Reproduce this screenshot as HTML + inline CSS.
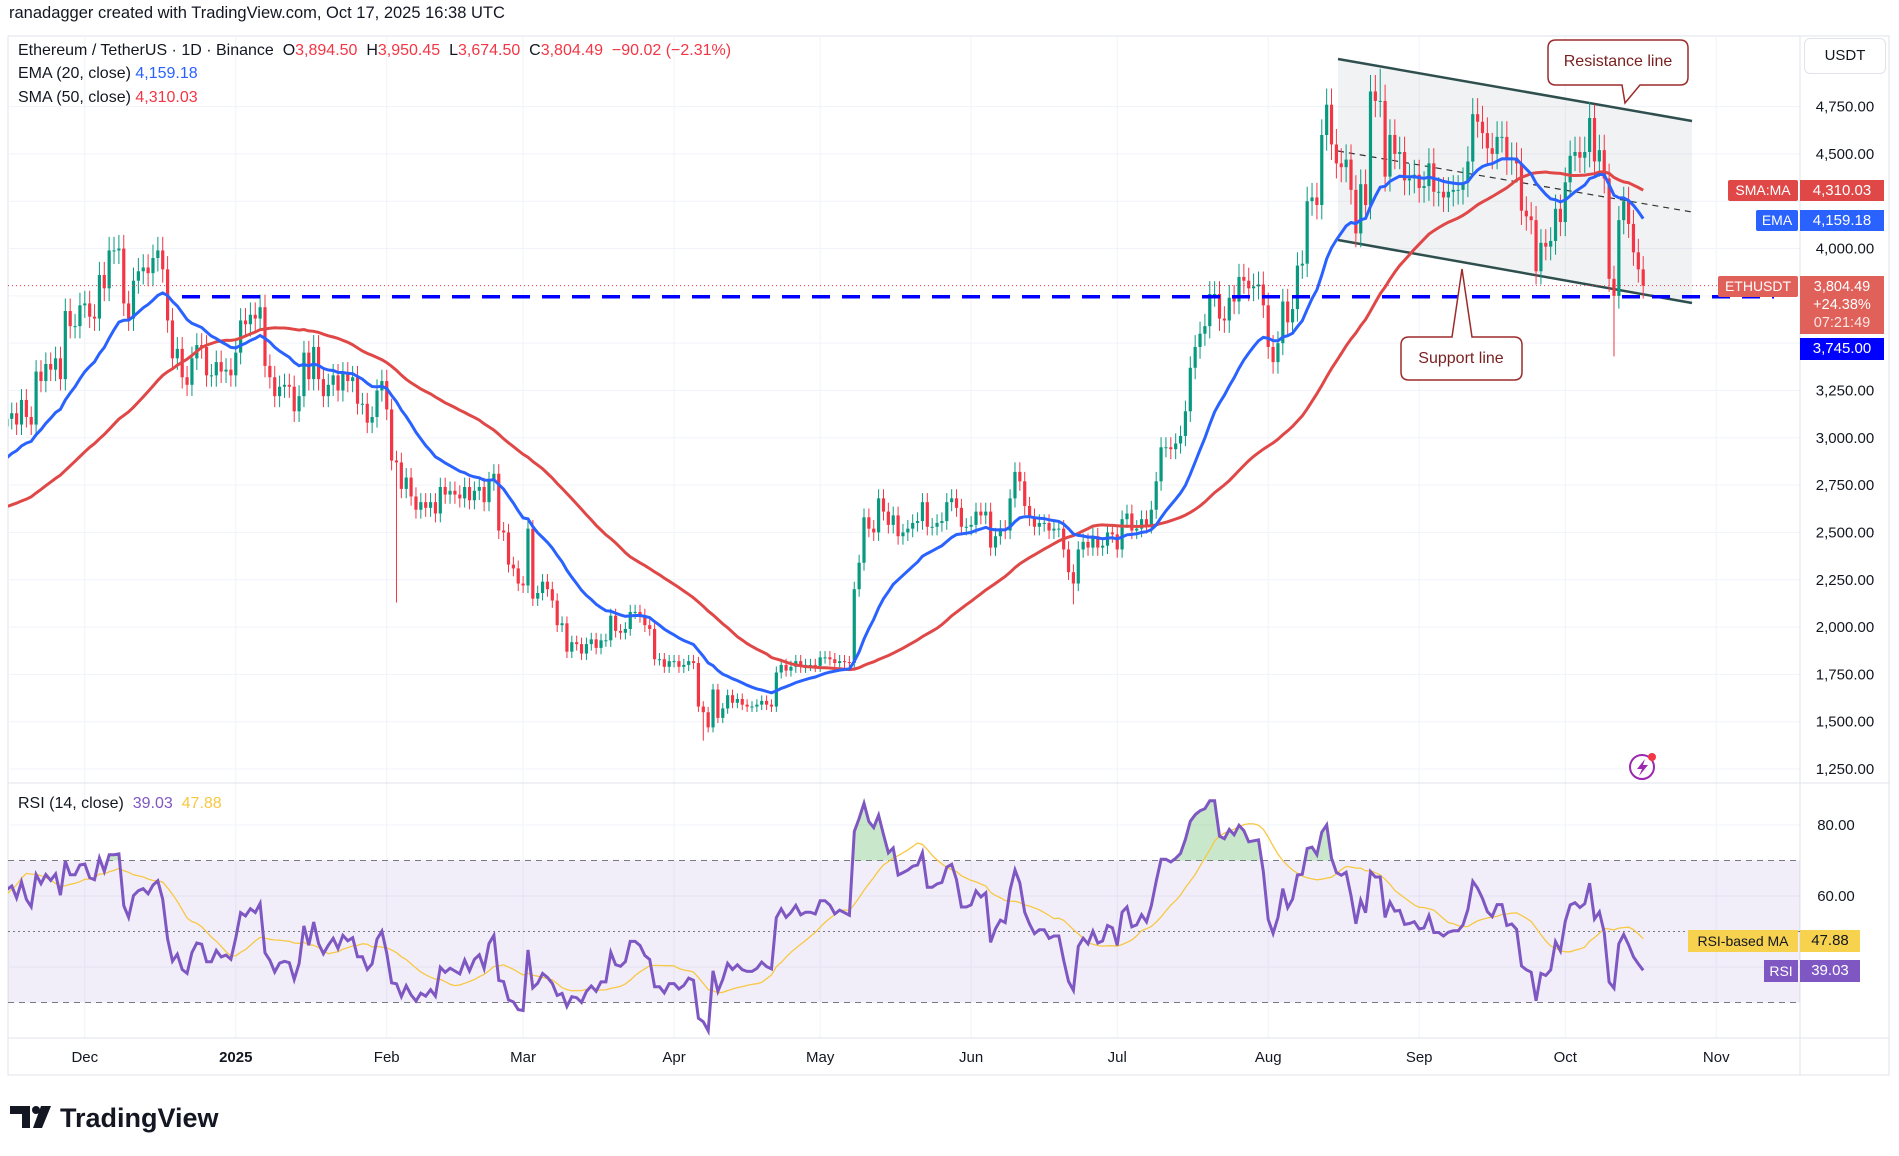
<!DOCTYPE html>
<html><head><meta charset="utf-8">
<style>
body{margin:0;background:#fff;width:1899px;height:1151px;overflow:hidden;font-family:"Liberation Sans",sans-serif;}
svg text{font-family:"Liberation Sans",sans-serif;}
</style></head>
<body>
<svg id="c" width="1899" height="1151" xmlns="http://www.w3.org/2000/svg"></svg>
<script>
// Daily closes starting 2024-09-26
const startDate = [2024, 8, 26];
const closes = [
2640,2650,2610,2660,2600,
2450,2360,2350,2410,2415,2440,2420,2440,2370,2390,2440,2470,2470,2630,2610,2610,2640,2650,2640,2750,2670,2620,2520,2540,2460,2480,2510,2570,2640,2660,2520,
2510,2490,2460,2400,2430,2720,2900,2960,3130,3180,3370,3250,3190,3060,3100,3130,3070,3200,3110,3070,3350,3300,3390,3360,3420,3310,3670,3590,3590,3700,
3710,3640,3630,3860,3790,3990,3990,4000,3710,3630,3830,3880,3900,3870,3950,3990,3890,3620,3420,3470,3320,3280,3420,3490,3480,3330,3330,3400,3350,3360,3330,
3450,3620,3600,3650,3630,3690,3380,3320,3220,3270,3280,3270,3140,3220,3450,3310,3480,3310,3220,3280,3330,3250,3340,3300,3320,3180,3180,3080,3110,3250,3300,
3150,2880,2870,2730,2790,2690,2620,2660,2630,2660,2600,2740,2700,2720,2700,2680,2740,2670,2720,2740,2660,2770,2810,2510,2500,2330,2310,2230,
2220,2520,2150,2180,2240,2200,2140,2010,2020,1870,1920,1910,1860,1910,1935,1890,1930,1930,2060,1980,1970,1990,2080,2080,2060,2010,1990,1830,1830,1790,1820,
1820,1790,1800,1820,1810,1580,1550,1470,1670,1520,1570,1640,1600,1620,1590,1580,1580,1590,1610,1590,1580,1760,1800,1770,1790,1820,1790,1800,1800,1795,
1840,1840,1830,1810,1820,1815,1810,2200,2340,2580,2520,2500,2680,2610,2540,2590,2480,2500,2520,2550,2560,2660,2530,2530,2550,2560,2660,2680,2630,2530,2530,
2540,2610,2590,2610,2420,2480,2520,2510,2680,2820,2770,2640,2580,2530,2550,2550,2510,2520,2520,2410,2290,2230,2410,2450,2420,2480,2420,2430,2500,2490,
2410,2570,2600,2510,2520,2570,2540,2620,2770,2950,2950,2940,2970,3010,3140,3370,3480,3550,3590,3760,3760,3630,3620,3740,3720,3850,3830,3790,3800,3810,3700,
3480,3400,3500,3720,3610,3680,3910,3920,4250,4270,4230,4600,4760,4550,4450,4430,4470,4310,4080,4340,4230,4830,4780,4780,4380,4600,4500,4510,4360,4370,4390,
4320,4330,4450,4300,4300,4270,4300,4310,4310,4350,4460,4710,4670,4610,4530,4500,4590,4590,4470,4480,4450,4200,4170,4150,3880,4030,4010,4040,4210,4140,
4350,4490,4510,4480,4510,4690,4460,4520,4370,3840,3750,4150,4250,4130,3980,3890,3804];
// notable wicks keyed by day index from start
const wickHighs = {332:4950, 376:4760};
const wickLows = {67:3580, 130:2130, 193:1400, 269:2120, 380:3430};
const priceTicks = [4750,4500,4000,3250,3000,2750,2500,2250,2000,1750,1500,1250];
const priceTickLabels = ["4,750.00","4,500.00","4,000.00","3,250.00","3,000.00","2,750.00","2,500.00","2,250.00","2,000.00","1,750.00","1,500.00","1,250.00"];
const rsiTicks = [80,60];
const rsiTickLabels = ["80.00","60.00"];
const monthLabels = ["Dec","2025","Feb","Mar","Apr","May","Jun","Jul","Aug","Sep","Oct","Nov"];
const monthDates = [[2024,11,1],[2025,0,1],[2025,1,1],[2025,2,1],[2025,3,1],[2025,4,1],[2025,5,1],[2025,6,1],[2025,7,1],[2025,8,1],[2025,9,1],[2025,10,1]];
const firstVisible = 50;

const NS="http://www.w3.org/2000/svg";
const svg=document.getElementById('c');
function mk(tag,attrs,parent){const e=document.createElementNS(NS,tag);for(const k in attrs)e.setAttribute(k,attrs[k]);(parent||svg).appendChild(e);return e;}
const PL=8,PR=1800,PT=36,PB=783,RT=783,RB=1038;
const day0=Date.UTC(startDate[0],startDate[1],startDate[2]);
const dec1=Date.UTC(2024,11,1);
const dec1Idx=(dec1-day0)/864e5;
function xDay(i){return 84.8+(i-dec1Idx)*4.87;}
function yP(p){return 106.6+(4750-p)*0.18926;}
function yR(r){return 825+(80-r)*3.55;}

mk('rect',{x:PL,y:PT,width:1881,height:1039,fill:'#fff',stroke:'#e0e3eb','stroke-width':1});
const defs=mk('defs',{});
const cp=mk('clipPath',{id:'pc'},defs);mk('rect',{x:PL,y:PT,width:PR-PL,height:PB-PT},cp);
const cr=mk('clipPath',{id:'rc'},defs);mk('rect',{x:PL,y:RT,width:PR-PL,height:RB-RT},cr);

const grid=mk('g',{});
priceTicks.forEach(p=>mk('line',{x1:PL,x2:PR,y1:yP(p),y2:yP(p),stroke:'#f0f3fa'},grid));
mk('line',{x1:PL,x2:PR,y1:yP(4250),y2:yP(4250),stroke:'#f0f3fa'},grid);
mk('line',{x1:PL,x2:PR,y1:yP(3500),y2:yP(3500),stroke:'#f0f3fa'},grid);
mk('line',{x1:PL,x2:PR,y1:yP(3750),y2:yP(3750),stroke:'#f0f3fa'},grid);
rsiTicks.forEach(r=>mk('line',{x1:PL,x2:PR,y1:yR(r),y2:yR(r),stroke:'#f0f3fa'},grid));
mk('line',{x1:PL,x2:PR,y1:yR(40),y2:yR(40),stroke:'#f0f3fa'},grid);
mk('line',{x1:PL,x2:PR,y1:yR(20),y2:yR(20),stroke:'#f0f3fa'},grid);
monthDates.forEach((d,k)=>{const i=(Date.UTC(d[0],d[1],d[2])-day0)/864e5;const x=xDay(i);
 mk('line',{x1:x,x2:x,y1:PT,y2:RB,stroke:'#f0f3fa'},grid);
 const t=mk('text',{x:x,y:1062,'text-anchor':'middle','font-size':15,fill:'#131722','font-weight':monthLabels[k]==='2025'?'bold':'normal'});t.textContent=monthLabels[k];
 
 
});
mk('line',{x1:PL,x2:1889,y1:PB,y2:PB,stroke:'#e0e3eb'});
mk('line',{x1:PL,x2:1889,y1:RB,y2:RB,stroke:'#e0e3eb'});
mk('line',{x1:PR,x2:PR,y1:PT,y2:1075,stroke:'#e0e3eb'});

const ch=mk('g',{});
mk('polygon',{points:'1338,59 1692,121 1692,303 1338,240',fill:'rgba(120,123,134,0.1)'},ch);
mk('line',{x1:1338,y1:59,x2:1692,y2:121,stroke:'#2f4f4f','stroke-width':2.5},ch);
mk('line',{x1:1338,y1:240,x2:1692,y2:303,stroke:'#2f4f4f','stroke-width':2.5},ch);
mk('line',{x1:1338,y1:151,x2:1692,y2:212,stroke:'#333','stroke-width':1.2,'stroke-dasharray':'6,5'},ch);

const cg=mk('g',{'clip-path':'url(#pc)',});
for(let i=firstVisible;i<closes.length;i++){
 const o=closes[i-1],c=closes[i];
 let h=Math.max(o,c)*1.018,l=Math.min(o,c)*0.982;
 if(wickHighs[i])h=wickHighs[i]; if(wickLows[i])l=wickLows[i];
 const col=c>=o?'#089981':'#f23645';const x=xDay(i);
 const gg=mk('g',{},cg);
 
 
 mk('line',{x1:x,x2:x,y1:yP(h),y2:yP(l),stroke:col,'stroke-width':1},gg);
 const y1=yP(Math.max(o,c)),y2=yP(Math.min(o,c));
 mk('rect',{x:x-1.6,y:y1,width:3.2,height:Math.max(1,y2-y1),fill:col},gg);
}
function ema(n){const k=2/(n+1);let e=closes[0];return closes.map((c,i)=>i===0?e:(e=c*k+e*(1-k)));}
function sma(n){return closes.map((c,i)=>{const s=closes.slice(Math.max(0,i-n+1),i+1);return s.reduce((a,b)=>a+b,0)/s.length;});}
function path(arr,fy,from){let d='';for(let i=from;i<arr.length;i++)d+=(i===from?'M':'L')+xDay(i).toFixed(1)+','+fy(arr[i]).toFixed(1);return d;}
const E=ema(20),S=sma(50);
const sp=mk('path',{d:path(S,yP,firstVisible),fill:'none',stroke:'#e04848','stroke-width':3,'clip-path':'url(#pc)'});

const ep=mk('path',{d:path(E,yP,firstVisible),fill:'none',stroke:'#2962ff','stroke-width':3,'clip-path':'url(#pc)'});


const last=closes[closes.length-1];
mk('line',{x1:PL,x2:PR,y1:yP(last),y2:yP(last),stroke:'#f23645','stroke-width':1,'stroke-dasharray':'1,3',});
mk('line',{x1:182,x2:1774,y1:yP(3745),y2:yP(3745),stroke:'#0000ff','stroke-width':3.5,'stroke-dasharray':'18,12',});

function rsi(n){const r=[];let ag=0,al=0;for(let i=1;i<closes.length;i++){const d=closes[i]-closes[i-1];const g=Math.max(d,0),l=Math.max(-d,0);
 if(i<=n){ag+=g/n;al+=l/n;r[i]=50;}else{ag=(ag*(n-1)+g)/n;al=(al*(n-1)+l)/n;r[i]=100-100/(1+ag/(al||1e-9));}}r[0]=50;return r;}
const R=rsi(14);
const RM=R.map((v,i)=>{const s=R.slice(Math.max(0,i-13),i+1);return s.reduce((a,b)=>a+b,0)/s.length;});
mk('rect',{x:PL,y:yR(70),width:PR-PL,height:yR(30)-yR(70),fill:'rgba(126,87,194,0.1)',});
[70,50,30].forEach(v=>mk('line',{x1:PL,x2:PR,y1:yR(v),y2:yR(v),stroke:'#787b86','stroke-width':1,'stroke-dasharray':v===50?'2,3':'6,5'}));
const rg=mk('g',{'clip-path':'url(#rc)'});
const cpo=mk('clipPath',{id:'ob'},defs);mk('rect',{x:PL,y:RT,width:PR-PL,height:yR(70)-RT},cpo);
mk('path',{d:path(R,yR,firstVisible)+'L'+xDay(closes.length-1)+','+yR(70)+'L'+xDay(firstVisible)+','+yR(70)+'Z',fill:'rgba(76,175,80,0.3)','clip-path':'url(#ob)'},rg);
const rmp=mk('path',{d:path(RM,yR,firstVisible),fill:'none',stroke:'#f7c843','stroke-width':1.3},rg);

const rp=mk('path',{d:path(R,yR,firstVisible),fill:'none',stroke:'#7e57c2','stroke-width':3},rg);


priceTicks.forEach((p,k)=>{const t=mk('text',{x:1845,y:yP(p)+5,'text-anchor':'middle','font-size':15,fill:'#131722'});t.textContent=priceTickLabels[k];
 });
rsiTicks.forEach((r,k)=>{const t=mk('text',{x:1836,y:yR(r)+5,'text-anchor':'middle','font-size':15,fill:'#131722'});t.textContent=rsiTickLabels[k];
 });
</script>
<div style="position:absolute;left:0;top:0;width:1899px;height:1151px;pointer-events:none">
<div style="position:absolute;left:9px;top:4px;font-size:16.5px;color:#131722">ranadagger created with TradingView.com, Oct 17, 2025 16:38 UTC</div>
<div style="position:absolute;left:18px;top:42px;font-size:16px;color:#131722;white-space:nowrap">Ethereum / TetherUS · 1D · Binance &nbsp;O<span style="color:#f23645">3,894.50</span> &nbsp;H<span style="color:#f23645">3,950.45</span> &nbsp;L<span style="color:#f23645">3,674.50</span> &nbsp;C<span style="color:#f23645">3,804.49 &nbsp;−90.02 (−2.31%)</span></div>
<div style="position:absolute;left:18px;top:65px;font-size:16px;color:#131722">EMA (20, close) <span style="color:#2962ff">4,159.18</span></div>
<div style="position:absolute;left:18px;top:89px;font-size:16px;color:#131722">SMA (50, close) <span style="color:#f23645">4,310.03</span></div>
<div style="position:absolute;left:18px;top:795px;font-size:16px;color:#131722">RSI (14, close) <span style="color:#7e57c2">&nbsp;39.03</span> <span style="color:#f7c843">&nbsp;47.88</span></div>
<div style="position:absolute;left:1804px;top:38px;width:80px;height:34px;border:1px solid #e0e3eb;border-radius:6px;font-size:15px;line-height:34px;text-align:center;color:#131722">USDT</div>
<div style="position:absolute;left:1728px;top:180px;width:70px;height:21px;background:#e04848;color:#fff;font-size:14px;line-height:21px;text-align:center;border-radius:2px">SMA:MA</div>
<div style="position:absolute;left:1800px;top:180px;width:84px;height:21px;background:#e04848;color:#fff;font-size:15px;line-height:21px;text-align:center">4,310.03</div>
<div style="position:absolute;left:1756px;top:210px;width:42px;height:21px;background:#2962ff;color:#fff;font-size:14px;line-height:21px;text-align:center;border-radius:2px">EMA</div>
<div style="position:absolute;left:1800px;top:210px;width:84px;height:21px;background:#2962ff;color:#fff;font-size:15px;line-height:21px;text-align:center">4,159.18</div>
<div style="position:absolute;left:1718px;top:276px;width:80px;height:21px;background:#e0605a;color:#fff;font-size:14px;line-height:21px;text-align:center;border-radius:2px">ETHUSDT</div>
<div style="position:absolute;left:1800px;top:276px;width:84px;height:58px;background:#e0605a;color:#fff;font-size:14.5px;line-height:18px;text-align:center;padding-top:2px;box-sizing:border-box">3,804.49<br>+24.38%<br><span style="opacity:.85">07:21:49</span></div>
<div style="position:absolute;left:1800px;top:338px;width:84px;height:22px;background:#0000ff;color:#fff;font-size:15px;line-height:22px;text-align:center">3,745.00</div>
<div style="position:absolute;left:1688px;top:930px;width:110px;height:22px;background:#f7d24f;color:#131722;font-size:14px;line-height:22px;text-align:center">RSI-based MA</div>
<div style="position:absolute;left:1800px;top:930px;width:60px;height:22px;background:#f7d24f;color:#131722;font-size:15px;line-height:22px;text-align:center">47.88</div>
<div style="position:absolute;left:1764px;top:960px;width:34px;height:22px;background:#7e57c2;color:#fff;font-size:14px;line-height:22px;text-align:center">RSI</div>
<div style="position:absolute;left:1800px;top:960px;width:60px;height:22px;background:#7e57c2;color:#fff;font-size:15px;line-height:22px;text-align:center">39.03</div>
<svg style="position:absolute;left:0;top:0" width="1899" height="1151">
 <g>
  <path d="M1556,40 H1680 Q1688,40 1688,48 V77 Q1688,85 1680,85 H1640 L1625,103 L1622,85 H1556 Q1548,85 1548,77 V48 Q1548,40 1556,40 Z" fill="#fff" stroke="#9c2b2b" stroke-width="1.5"/>
  <text x="1618" y="66" text-anchor="middle" font-size="16" fill="#7a1f1f" font-family="Liberation Sans">Resistance line</text>
 </g>
 <g>
  <path d="M1409,337 H1452 L1462,269 L1472,337 H1514 Q1522,337 1522,345 V372 Q1522,380 1514,380 H1409 Q1401,380 1401,372 V345 Q1401,337 1409,337 Z" fill="#fff" stroke="#9c2b2b" stroke-width="1.5"/>
  <text x="1461" y="363" text-anchor="middle" font-size="16" fill="#7a1f1f" font-family="Liberation Sans">Support line</text>
 </g>
 <g>
  <circle cx="1642" cy="767" r="12" fill="none" stroke="#9c27b0" stroke-width="2"/>
  <path d="M1645,759 L1637,769 H1642 L1639,776 L1648,765 H1643 Z" fill="#9c27b0"/>
  <circle cx="1652" cy="757" r="4" fill="#f23645"/>
 </g>
 <g>
  <path d="M10,1106 H30 V1128 H22 V1114 H10 Z" fill="#131722"/>
  <circle cx="36" cy="1110" r="4" fill="#131722"/>
  <path d="M41,1106 H51 L42,1128 H33 Z" fill="#131722"/>
  <text x="60" y="1127" font-size="27" font-weight="bold" fill="#131722" font-family="Liberation Sans">TradingView</text>
 </g>
</svg>
</div>
</body></html>
